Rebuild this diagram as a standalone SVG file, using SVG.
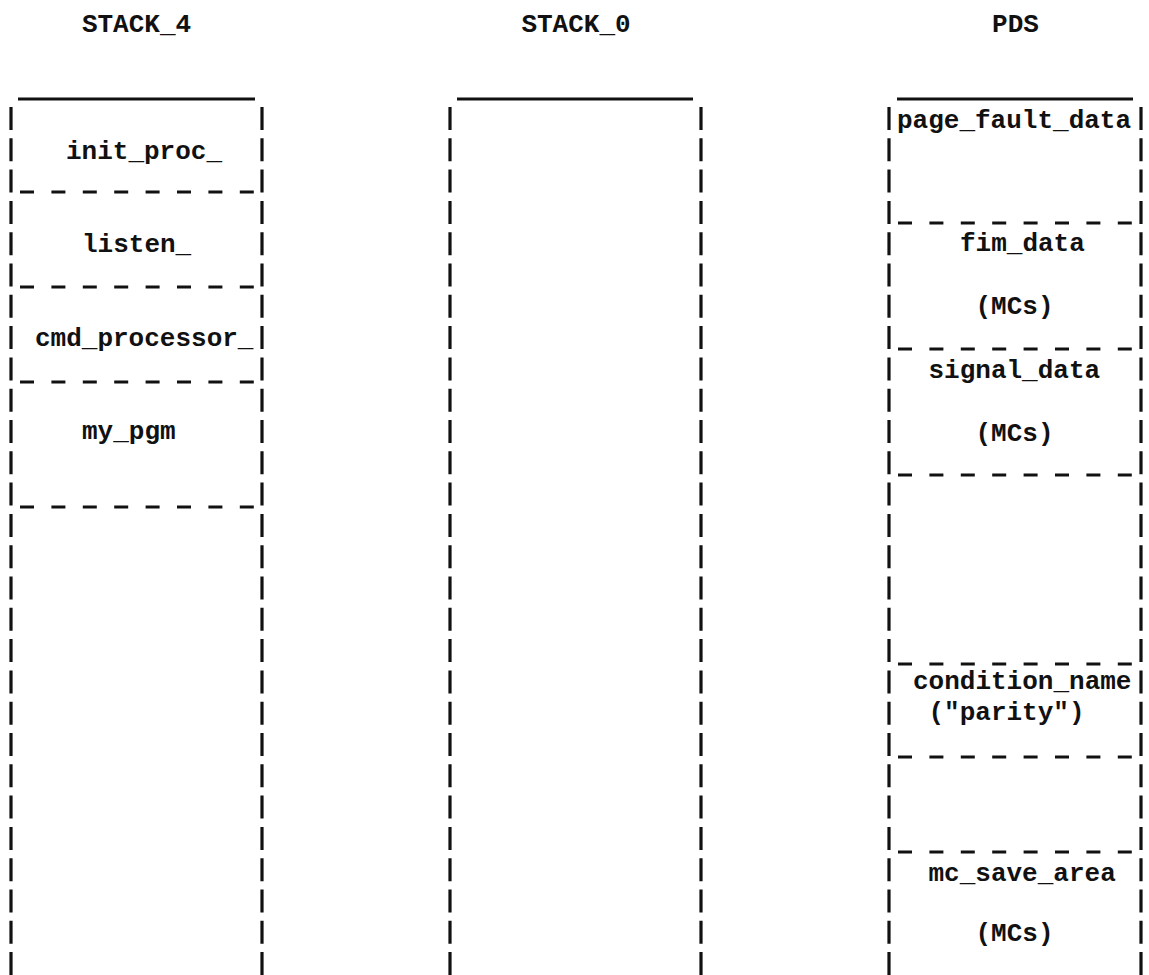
<svg xmlns="http://www.w3.org/2000/svg" width="1149" height="975" viewBox="0 0 1149 975">
<style>
text{font-family:"Liberation Mono","DejaVu Sans Mono",monospace;font-size:26px;font-weight:bold;fill:#111}
.t{text-anchor:middle}
.top{stroke:#111;stroke-width:3}
.bar{stroke:#111;stroke-width:3.2;stroke-dasharray:23 8.3}
.sep{stroke:#111;stroke-width:3;stroke-dasharray:14 17.4}
</style>
<rect width="1149" height="975" fill="#fff"/>
<g id="stack4">
<text class="t" x="136.5" y="32">STACK_4</text>
<line class="top" x1="18" y1="99" x2="255" y2="99"/>
<line class="bar" x1="11" y1="107" x2="11" y2="975"/>
<line class="bar" x1="262" y1="107" x2="262" y2="975"/>
<line class="sep" x1="20" y1="192" x2="255" y2="192"/>
<line class="sep" x1="20" y1="287" x2="255" y2="287"/>
<line class="sep" x1="20" y1="382" x2="255" y2="382"/>
<line class="sep" x1="20" y1="507" x2="255" y2="507"/>
<text x="66" y="159">init_proc_</text>
<text x="82" y="252">listen_</text>
<text x="35" y="346">cmd_processor_</text>
<text x="82" y="439">my_pgm</text>
</g>
<g id="stack0">
<text class="t" x="576" y="32">STACK_0</text>
<line class="top" x1="457" y1="99" x2="693" y2="99"/>
<line class="bar" x1="450" y1="107" x2="450" y2="975"/>
<line class="bar" x1="701" y1="107" x2="701" y2="975"/>
</g>
<g id="pds">
<text class="t" x="1015.5" y="32">PDS</text>
<line class="top" x1="897" y1="99" x2="1133" y2="99"/>
<line class="bar" x1="889" y1="107" x2="889" y2="975"/>
<line class="bar" x1="1141" y1="107" x2="1141" y2="975"/>
<line class="sep" x1="898" y1="223" x2="1134" y2="223"/>
<line class="sep" x1="898" y1="349" x2="1134" y2="349"/>
<line class="sep" x1="898" y1="475" x2="1134" y2="475"/>
<line class="sep" x1="898" y1="664" x2="1134" y2="664"/>
<line class="sep" x1="898" y1="757" x2="1134" y2="757"/>
<line class="sep" x1="898" y1="852" x2="1134" y2="852"/>
<text x="897" y="128">page_fault_data</text>
<text x="960" y="251">fim_data</text>
<text x="975.5" y="314">(MCs)</text>
<text x="928.5" y="378">signal_data</text>
<text x="975.5" y="441">(MCs)</text>
<text x="913" y="689">condition_name</text>
<text x="928.5" y="720">("parity")</text>
<text x="928.5" y="881">mc_save_area</text>
<text x="975.5" y="941">(MCs)</text>
</g>
<g id="connectors"></g>
</svg>
